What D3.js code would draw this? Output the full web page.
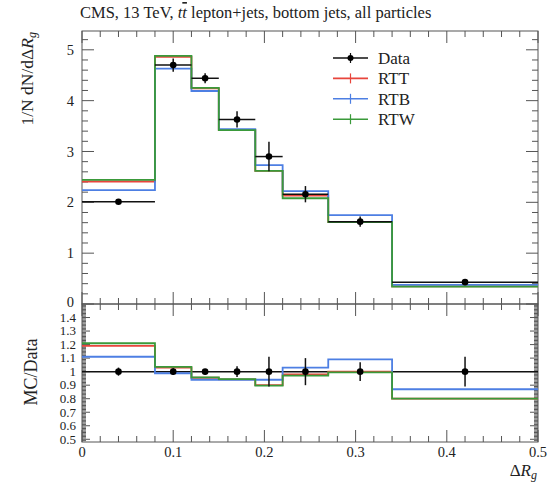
<!DOCTYPE html>
<html><head><meta charset="utf-8">
<script src="https://cdn.jsdelivr.net/npm/d3@7"></script>
<style>
body{margin:0;background:#fff;}
svg{display:block;}
text{font-family:"Liberation Serif","DejaVu Serif",serif;fill:#222;}
</style></head>
<body><svg id="c" width="548" height="483"></svg>
<script>
// ---- data ----
const binEdges = [0, 0.08, 0.12, 0.15, 0.19, 0.22, 0.27, 0.34, 0.5];
const dataValues = [2.01, 4.70, 4.44, 3.63, 2.90, 2.16, 1.62, 0.43];
const dataErrors = [0.04, 0.13, 0.10, 0.16, 0.29, 0.16, 0.10, 0.05];
const rttValues = [2.41, 4.86, 4.24, 3.42, 2.62, 2.13, 1.61, 0.345];
const rtbValues = [2.24, 4.63, 4.19, 3.44, 2.73, 2.22, 1.75, 0.375];
const rtwValues = [2.44, 4.88, 4.25, 3.42, 2.62, 2.08, 1.61, 0.343];
const ratioDataErrors = [0.03, 0.025, 0.02, 0.04, 0.11, 0.10, 0.07, 0.11];
const rttRatio = [1.19, 1.03, 0.955, 0.943, 0.90, 0.98, 1.0, 0.80];
const rtbRatio = [1.11, 0.988, 0.94, 0.94, 0.94, 1.03, 1.09, 0.87];
const rtwRatio = [1.21, 1.035, 0.958, 0.944, 0.897, 0.97, 0.995, 0.80];
const seriesNames = ["Data", "RTT", "RTB", "RTW"];
const xTickValues = [0, 0.1, 0.2, 0.3, 0.4, 0.5];
const mainYTicks = [0, 1, 2, 3, 4, 5];
const ratioYTicks = [0.5, 0.6, 0.7, 0.8, 0.9, 1, 1.1, 1.2, 1.3, 1.4];

const colors = {Data: "#111", RTT: "#e8453c", RTB: "#4d7fe3", RTW: "#3a9a3a"};

const svg = d3.select("#c");
const L = 82, R = 538, T = 31, M = 304, B = 442;
const x = d3.scaleLinear().domain([0, 0.5]).range([L, R]);
const y = d3.scaleLinear().domain([0, 5.37]).range([M, T]);
const yr = d3.scaleLinear().domain([0.48, 1.5]).range([B, M]);

const frameColor = "#555";

function ticksX(yPos, dir, minorLen, majorLen) {
  const g = svg.append("g");
  d3.range(0, 26).forEach(i => {
    const v = i * 0.02;
    const major = i % 5 === 0;
    const len = major ? majorLen : minorLen;
    g.append("line").attr("x1", x(v)).attr("x2", x(v))
      .attr("y1", yPos).attr("y2", yPos + dir * len)
      .attr("stroke", frameColor).attr("stroke-width", 1);
  });
}
function ticksY(scale, vals, isMajor, minorLen, majorLen) {
  const g = svg.append("g");
  vals.forEach(v => {
    const len = isMajor(v) ? majorLen : minorLen;
    const py = scale(v);
    g.append("line").attr("x1", L).attr("x2", L + len).attr("y1", py).attr("y2", py)
      .attr("stroke", frameColor).attr("stroke-width", 1);
    g.append("line").attr("x1", R).attr("x2", R - len).attr("y1", py).attr("y2", py)
      .attr("stroke", frameColor).attr("stroke-width", 1);
  });
}

ticksX(T, 1, 6, 12);
ticksX(M, -1, 6, 12);
ticksX(M, 1, 6, 12);
ticksX(B, -1, 6, 12);
ticksY(y, d3.range(0, 27).map(i => +(i * 0.2).toFixed(2)), v => Math.abs(v - Math.round(v)) < 1e-6, 6, 12);
ticksY(yr, d3.range(49, 150).map(i => +(i * 0.01).toFixed(2)), v => Math.abs(v * 10 - Math.round(v * 10)) < 1e-6, 4, 8);

svg.append("rect").attr("x", L).attr("y", T).attr("width", R - L).attr("height", M - T)
  .attr("fill", "none").attr("stroke", frameColor).attr("stroke-width", 1);
svg.append("rect").attr("x", L).attr("y", M).attr("width", R - L).attr("height", B - M)
  .attr("fill", "none").attr("stroke", frameColor).attr("stroke-width", 1);

// tick labels
svg.append("g").selectAll("text").data(mainYTicks).join("text")
  .attr("x", L - 8).attr("y", d => y(d) - (d === 0 ? 2 : 0)).attr("dy", "0.35em")
  .attr("text-anchor", "end").attr("font-size", 14.5).text(d => d);
svg.append("g").selectAll("text").data(ratioYTicks).join("text")
  .attr("x", L - 6).attr("y", d => yr(d)).attr("dy", "0.33em")
  .attr("text-anchor", "end").attr("font-size", 13).text(d => d3.format("~g")(d));
svg.append("g").selectAll("text").data(xTickValues).join("text")
  .attr("x", d => x(d)).attr("y", 457)
  .attr("text-anchor", "middle").attr("font-size", 14.5).text(d => d3.format("~g")(d));

// histograms
const stepLine = (sc) => d3.line().x(d => x(d[0])).y(d => sc(d[1])).curve(d3.curveStepAfter);
function histPts(vals) {
  const pts = vals.map((v, i) => [binEdges[i], v]);
  pts.push([binEdges[binEdges.length - 1], vals[vals.length - 1]]);
  return pts;
}
const mcMain = [["RTT", rttValues], ["RTB", rtbValues], ["RTW", rtwValues]];
const mcRatio = [["RTT", rttRatio], ["RTB", rtbRatio], ["RTW", rtwRatio]];
svg.append("clipPath").attr("id", "cm").append("rect").attr("x", L).attr("y", T).attr("width", R - L).attr("height", M - T);
svg.append("clipPath").attr("id", "cr").append("rect").attr("x", L).attr("y", M).attr("width", R - L).attr("height", B - M);
const gM = svg.append("g").attr("clip-path", "url(#cm)");
const gR = svg.append("g").attr("clip-path", "url(#cr)");
mcMain.forEach(([n, vals]) => {
  gM.append("path").attr("d", stepLine(y)(histPts(vals))).attr("fill", "none")
    .attr("stroke", colors[n]).attr("stroke-width", 1.8);
});
gR.append("line").attr("x1", L).attr("x2", R).attr("y1", yr(1)).attr("y2", yr(1))
  .attr("stroke", "#111").attr("stroke-width", 1.5);
mcRatio.forEach(([n, vals]) => {
  gR.append("path").attr("d", stepLine(yr)(histPts(vals))).attr("fill", "none")
    .attr("stroke", colors[n]).attr("stroke-width", 1.8);
});

const centers = binEdges.slice(0, -1).map((e, i) => (e + binEdges[i + 1]) / 2);
dataValues.forEach((v, i) => {
  gM.append("line").attr("x1", x(binEdges[i])).attr("x2", x(binEdges[i + 1]))
    .attr("y1", y(v)).attr("y2", y(v)).attr("stroke", "#111").attr("stroke-width", 1.5);
  gM.append("line").attr("x1", x(centers[i])).attr("x2", x(centers[i]))
    .attr("y1", y(v - dataErrors[i])).attr("y2", y(v + dataErrors[i])).attr("stroke", "#111").attr("stroke-width", 1.5);
  gM.append("circle").attr("cx", x(centers[i])).attr("cy", y(v)).attr("r", 3.3).attr("fill", "#000");
});
ratioDataErrors.forEach((e, i) => {
  gR.append("line").attr("x1", x(centers[i])).attr("x2", x(centers[i]))
    .attr("y1", yr(1 - e)).attr("y2", yr(1 + e)).attr("stroke", "#111").attr("stroke-width", 1.5);
  gR.append("circle").attr("cx", x(centers[i])).attr("cy", yr(1)).attr("r", 3.3).attr("fill", "#000");
});

// legend
const lg = svg.append("g");
seriesNames.forEach((n, i) => {
  const ly = 58 + i * 20.4;
  lg.append("line").attr("x1", 333).attr("x2", 368).attr("y1", ly).attr("y2", ly)
    .attr("stroke", colors[n]).attr("stroke-width", 1.6);
  lg.append("line").attr("x1", 350.5).attr("x2", 350.5).attr("y1", ly - 5).attr("y2", ly + 5)
    .attr("stroke", colors[n]).attr("stroke-width", 1.2);
  if (n === "Data") lg.append("circle").attr("cx", 350.5).attr("cy", ly).attr("r", 3).attr("fill", "#000");
  lg.append("text").attr("x", 378).attr("y", ly).attr("dy", "0.35em").attr("font-size", 17).text(n);
});

// title
const title = svg.append("text").attr("x", 80).attr("y", 18).attr("font-size", 16.5);
title.append("tspan").text("CMS, 13 TeV, ");
title.append("tspan").attr("font-style", "italic").text("t");
title.append("tspan").attr("font-style", "italic").attr("text-decoration", "overline").text("t");
title.append("tspan").text(" lepton+jets, bottom jets, all particles");

const yl = svg.append("text").attr("transform", "translate(33,32) rotate(-90)")
  .attr("text-anchor", "end").attr("font-size", 17.5);
yl.append("tspan").text("1/N dN/dΔ");
yl.append("tspan").attr("font-style", "italic").text("R");
yl.append("tspan").attr("font-style", "italic").attr("font-size", 12).attr("dy", 3).text("g");
svg.append("text").attr("transform", "translate(37,372) rotate(-90)")
  .attr("text-anchor", "middle").attr("font-size", 18).text("MC/Data");
const xl = svg.append("text").attr("x", 537).attr("y", 476).attr("text-anchor", "end").attr("font-size", 17);
xl.append("tspan").text("Δ");
xl.append("tspan").attr("font-style", "italic").text("R");
xl.append("tspan").attr("font-style", "italic").attr("font-size", 12).attr("dy", 3).text("g");
</script></body></html>
